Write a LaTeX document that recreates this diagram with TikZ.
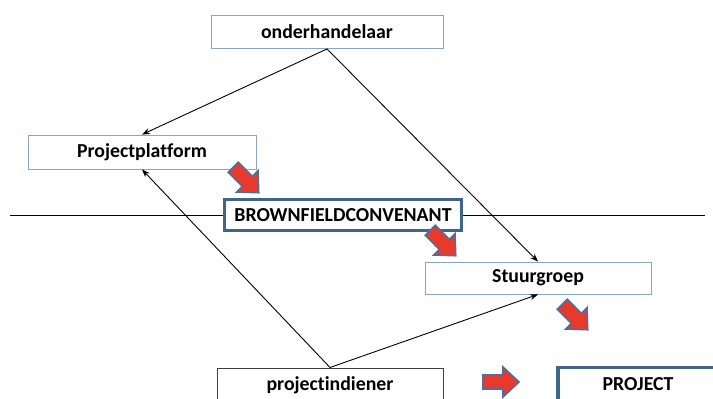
\documentclass[tikz,border=0pt]{standalone}
\usepackage{fontspec}
\setmainfont[Ligatures={NoCommon}]{Carlito}
\usetikzlibrary{arrows.meta}
\definecolor{thinblue}{HTML}{8AA4C8}
\definecolor{thickblue}{HTML}{41648F}
\definecolor{arrowred}{HTML}{E8392B}
\definecolor{arrowedge}{HTML}{4A6FA5}
\tikzset{
  box/.style={draw=thinblue, line width=0.9pt, fill=white, inner sep=0pt,
    font=\bfseries\fontsize{19.8}{22}\selectfont, text=black},
  keybox/.style={box, draw=thickblue, line width=3.2pt},
  greybox/.style={box, draw=black!75, line width=1pt},
  link/.style={line width=0.9pt, -{Stealth[length=8pt,width=6pt]}},
  pics/blockarrow/.style={code={
    \draw[fill=arrowred, draw=arrowedge, line width=1.6pt, line join=miter]
      (-18,-7) -- (2,-7) -- (2,-15) -- (18,0) -- (2,15) -- (2,7) -- (-18,7) -- cycle;
  }}
}
\begin{document}
\begin{tikzpicture}[x=1pt, y=-1pt]
  \useasboundingbox (0,0) rectangle (713,399);
  \clip (0,0) rectangle (713,399);

  % dividing line
  \draw[line width=0.9pt] (10,215) -- (705,215);

  % boxes
  \node[box, minimum width=232pt, minimum height=33pt] (onder) at (327,32) {onderhandelaar};
  \node[box, minimum width=228pt, minimum height=34pt] (plat) at (142,152) {Projectplatform};
  \node[keybox, minimum width=237pt, minimum height=31pt] (conv) at (343,215) {BROWNFIELDCONVENANT};
  \node[box, minimum width=226pt, minimum height=32pt] (stuur) at (538,278) {Stuurgroep};
  \node[greybox, minimum width=226pt, minimum height=34pt] (indien) at (330,385) {projectindiener};
  \node[keybox, minimum width=160pt, minimum height=33pt] (proj) at (638,384) {PROJECT};

  % connectors
  \draw[link] (onder.south) -- (plat.north);
  \draw[link] (onder.south) -- (stuur.north);
  \draw[link] (indien.north) -- (plat.south);
  \draw[link] (indien.north) -- (stuur.south);

  % red block arrows
  \pic[rotate=-45] at (246,180) {blockarrow};
  \pic[rotate=-45] at (443,243) {blockarrow};
  \pic[rotate=-45] at (575,317) {blockarrow};
  \pic at (501,382) {blockarrow};
\end{tikzpicture}
\end{document}
